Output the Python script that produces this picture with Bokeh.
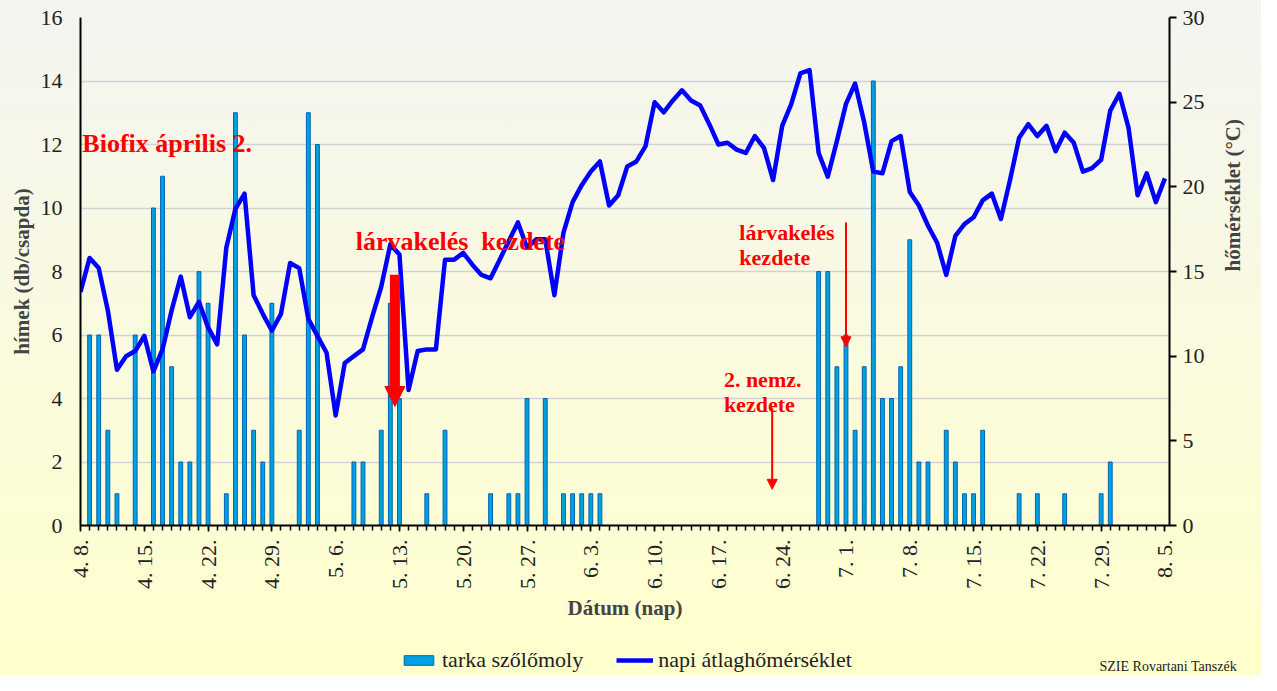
import math
import pandas as pd
from bokeh.plotting import figure
from bokeh.layouts import column, row
from bokeh.models import (Range1d, LinearAxis, FixedTicker, ColumnDataSource,
                          Legend, LegendItem, Label, Arrow, NormalHead)
from bokeh.embed import file_html
from bokeh.resources import INLINE

# ---------------- data ----------------
start_date = "2008-04-08"          # first day on the axis (4. 8.)
end_date = "2008-08-05"            # last day on the axis (8. 5.)

# trap catches (male moths per trap) - day offset from 4.8. and count
moth_days = [1, 2, 3, 4, 6, 8, 9, 10, 11, 12, 13, 14, 16, 17, 18, 19, 20, 21,
             24, 25, 26, 30, 31, 33, 34, 35, 38, 40, 45, 47, 48, 49, 51, 53,
             54, 55, 56, 57, 81, 82, 83, 84, 85, 86, 87, 88, 89, 90, 91, 92,
             93, 95, 96, 97, 98, 99, 103, 105, 108, 112, 113]
moth_counts = [6, 6, 3, 1, 6, 10, 11, 5, 2, 2, 8, 7, 1, 13, 6, 3, 2, 7,
               3, 13, 12, 2, 2, 3, 7, 4, 1, 3, 1, 1, 1, 4, 4, 1,
               1, 1, 1, 1, 8, 8, 5, 6, 3, 5, 14, 4, 4, 5, 9, 2,
               2, 3, 2, 1, 1, 3, 1, 1, 1, 1, 2]

# daily mean temperature (°C), one value per day from 4.8. to 8.5.
temperature = [13.8, 15.8, 15.2, 12.7, 9.2, 10.0, 10.3, 11.2, 9.1, 10.4,
               12.7, 14.7, 12.3, 13.2, 11.7, 10.7, 16.4, 18.7, 19.6, 13.6,
               12.5, 11.5, 12.5, 15.5, 15.2, 12.2, 11.2, 10.2, 6.5, 9.6,
               10.0, 10.4, 12.3, 14.1, 16.6, 16.0, 8.0, 10.3, 10.4, 10.4,
               15.7, 15.7, 16.1, 15.4, 14.8, 14.6, 15.7, 16.8, 17.9, 16.4,
               16.9, 16.9, 13.6, 17.3, 19.1, 20.1, 20.9, 21.5, 18.9, 19.5,
               21.2, 21.5, 22.4, 25.0, 24.4, 25.1, 25.7, 25.1, 24.8, 23.7,
               22.5, 22.6, 22.2, 22.0, 23.0, 22.3, 20.4, 23.6, 24.9, 26.7,
               26.9, 22.0, 20.6, 22.7, 24.9, 26.1, 23.8, 20.9, 20.8, 22.7,
               23.0, 19.7, 18.9, 17.7, 16.7, 14.8, 17.1, 17.8, 18.2, 19.2,
               19.6, 18.1, 20.4, 22.9, 23.7, 23.0, 23.6, 22.1, 23.2, 22.6,
               20.9, 21.1, 21.6, 24.5, 25.5, 23.5, 19.5, 20.8, 19.1, 20.5]

left_ticks = [0, 2, 4, 6, 8, 10, 12, 14, 16]
right_ticks = [0, 5, 10, 15, 20, 25, 30]
tick_step_days = 7

bar_name = "tarka szőlőmoly"
line_name = "napi átlaghőmérséklet"

# ---------------- derived ----------------
dates = pd.date_range(start_date, end_date, freq="D")
days = list(range(len(dates)))
tick_days = days[::tick_step_days]
tick_labels = {d: f"{dates[d].month}. {dates[d].day}." for d in tick_days}

FONT = "Liberation Serif"
RED = "#ff0000"
BAR_STYLE = dict(fill_color="#00a0e4", line_color="#0063b0", line_width=1)
LINE_STYLE = dict(line_color="#0000ff", line_width=4.5, line_join="round")

W, H_MAIN, H_LEG = 1261, 630, 45
BORDER_L, BORDER_R = 80, 92

x_range = Range1d(0, len(days) - 0.5)
p = figure(width=W, height=H_MAIN, output_backend="svg", toolbar_location=None,
           x_range=x_range, y_range=Range1d(0, 16),
           min_border_left=BORDER_L, min_border_right=BORDER_R, min_border_top=17,
           min_border_bottom=105)
p.border_fill_alpha = 0
p.background_fill_alpha = 0
p.outline_line_color = None
p.extra_y_ranges = {"temp": Range1d(0, 30)}

# bars
bar_src = ColumnDataSource(dict(x=moth_days, top=moth_counts))
bars = p.vbar(x="x", top="top", width=0.42, source=bar_src, **BAR_STYLE)

# line
line_src = ColumnDataSource(dict(x=days, y=temperature))
temp_line = p.line(x="x", y="y", source=line_src, y_range_name="temp", **LINE_STYLE)

# grid
p.xgrid.visible = False
p.ygrid.ticker = FixedTicker(ticks=left_ticks)
p.ygrid.grid_line_color = "#d2d2d6"
p.ygrid.grid_line_width = 1.5

# left axis
ya = p.yaxis[0]
ya.ticker = FixedTicker(ticks=left_ticks)
ya.axis_label = "hímek (db/csapda)"
ya.axis_label_text_font = FONT
ya.axis_label_text_font_style = "bold"
ya.axis_label_text_font_size = "21px"
ya.axis_label_standoff = 4
ya.major_label_text_font = FONT
ya.major_label_text_font_size = "22px"
ya.major_label_text_color = "#222222"
ya.major_label_standoff = 18
ya.major_tick_out = 0
ya.major_tick_in = 0
ya.minor_tick_out = 0
ya.minor_tick_in = 0
ya.axis_line_width = 2
ya.axis_line_color = "black"

# right axis
ra = LinearAxis(y_range_name="temp", ticker=FixedTicker(ticks=right_ticks),
                axis_label="hőmérséklet (°C)")
ra.axis_label_orientation = math.pi / 2
ra.axis_label_text_font = FONT
ra.axis_label_text_font_style = "bold"
ra.axis_label_text_font_size = "21px"
ra.axis_label_standoff = 25
ra.major_label_text_font = FONT
ra.major_label_text_font_size = "22px"
ra.major_label_text_color = "#222222"
ra.major_label_standoff = 6
ra.major_tick_out = 7
ra.major_tick_in = 0
ra.minor_tick_out = 0
ra.minor_tick_in = 0
ra.major_tick_line_width = 2
ra.axis_line_width = 2
ra.axis_line_color = "black"
p.add_layout(ra, "right")

# bottom axis
xa = p.xaxis[0]
xa.ticker = FixedTicker(ticks=tick_days, minor_ticks=days)
xa.major_label_overrides = tick_labels
xa.major_label_orientation = math.pi / 2
xa.major_label_text_font = FONT
xa.major_label_text_font_size = "22px"
xa.major_label_text_color = "#222222"
xa.major_label_standoff = 8
xa.major_tick_out = 6
xa.major_tick_in = 0
xa.minor_tick_out = 5
xa.minor_tick_in = 0
xa.major_tick_line_width = 1.5
xa.minor_tick_line_width = 1.5
xa.axis_line_width = 2
xa.axis_line_color = "black"
xa.axis_label = "Dátum (nap)"
xa.axis_label_text_font = FONT
xa.axis_label_text_font_style = "bold"
xa.axis_label_text_font_size = "21px"
xa.axis_label_standoff = 4

# annotations inside the plot
def add_label(fig, x, y, text, size, color=RED, bold=True, **kw):
    fig.add_layout(Label(x=x, y=y, text=text, text_font=FONT,
                         text_font_size=size, text_color=color,
                         text_font_style="bold" if bold else "normal",
                         text_baseline="alphabetic", **kw))

add_label(p, 0.2, 12.04, "Biofix április 2.", "26px")
add_label(p, 30.2, 8.94, "lárvakelés\u00a0 kezdete", "26px")
add_label(p, 72.3, 9.22, "lárvakelés", "22px")
add_label(p, 72.3, 8.43, "kezdete", "22px")
add_label(p, 70.6, 4.60, "2. nemz.", "22px")
add_label(p, 70.6, 3.82, "kezdete", "22px")

p.add_layout(Arrow(end=NormalHead(size=20, fill_color=RED, line_color=RED),
                   x_start=34.5, y_start=7.9, x_end=34.5, y_end=3.75,
                   line_color=RED, line_width=10))
p.add_layout(Arrow(end=NormalHead(size=10, fill_color=RED, line_color=RED),
                   x_start=84.0, y_start=9.54, x_end=84.0, y_end=5.63,
                   line_color=RED, line_width=2))
p.add_layout(Arrow(end=NormalHead(size=10, fill_color=RED, line_color=RED),
                   x_start=75.9, y_start=3.69, x_end=75.9, y_end=1.14,
                   line_color=RED, line_width=2))

# ---------------- legend strip below the chart ----------------
# a frame covering the whole strip (pixel-like ranges); the series are
# attached hidden, only so that the legend can draw their swatches
q = figure(width=W, height=H_LEG, output_backend="svg", toolbar_location=None,
           x_range=Range1d(0, W), y_range=Range1d(0, H_LEG),
           x_axis_location=None, y_axis_location=None, min_border=0)
q.border_fill_alpha = 0
q.background_fill_alpha = 0
q.outline_line_color = None
q.grid.visible = False
leg_bar = q.vbar(x="x", top="top", width=0.42, source=bar_src, visible=False, **BAR_STYLE)
leg_line = q.line(x="x", y="y", source=line_src, visible=False, **LINE_STYLE)

legend = Legend(items=[LegendItem(label=bar_name, renderers=[leg_bar]),
                       LegendItem(label=line_name, renderers=[leg_line])],
                location=(400, 2), orientation="horizontal",
                label_text_font=FONT, label_text_font_size="22px",
                label_text_color="#222222",
                glyph_width=37, glyph_height=12, label_standoff=5, spacing=33,
                padding=0, margin=0, border_line_color=None,
                background_fill_alpha=0, inactive_fill_alpha=0)
q.add_layout(legend, "center")
add_label(q, 1099, 9, "SZIE Rovartani Tanszék", "14px", color="#222222", bold=False)

layout = column(p, row(q, spacing=0), spacing=0)
layout.styles = {"background": "linear-gradient(to bottom, #f3f4f1 0%, #fafadf 50%, #ffffcc 100%)"}

open("out.html", "w").write(file_html(layout, INLINE))
